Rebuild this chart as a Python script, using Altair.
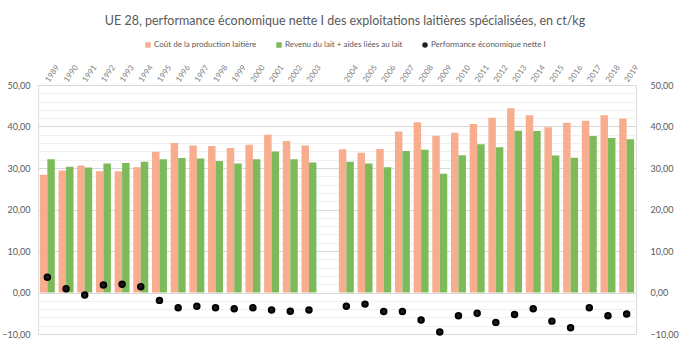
import altair as alt
import pandas as pd

years = ["1989", "1990", "1991", "1992", "1993", "1994", "1995", "1996", "1997", "1998",
         "1999", "2000", "2001", "2002", "2003", " ", "2004", "2005", "2006", "2007",
         "2008", "2009", "2010", "2011", "2012", "2013", "2014", "2015", "2016", "2017",
         "2018", "2019"]
data_years = [y for y in years if y.strip()]

cost = [28.4, 29.4, 30.6, 29.2, 29.2, 30.2, 33.9, 36.0, 35.4, 35.3,
        34.8, 35.6, 38.0, 36.5, 35.4, 34.5, 33.7, 34.6, 38.8, 41.0,
        37.8, 38.5, 40.6, 42.1, 44.4, 42.7, 39.8, 40.9, 41.4, 42.7, 41.9]
revenue = [32.1, 30.3, 30.1, 31.1, 31.2, 31.5, 32.1, 32.4, 32.3, 31.7,
           31.1, 32.1, 34.0, 32.1, 31.3, 31.5, 31.1, 30.2, 34.1, 34.4,
           28.6, 33.1, 35.7, 35.0, 39.0, 38.9, 33.0, 32.5, 37.7, 37.2, 36.9]
perf = [3.7, 0.9, -0.6, 1.8, 2.0, 1.4, -1.9, -3.7, -3.3, -3.7,
        -3.9, -3.7, -4.2, -4.5, -4.2, -3.3, -2.8, -4.6, -4.6, -6.6,
        -9.5, -5.6, -5.0, -7.2, -5.3, -3.9, -6.9, -8.5, -3.7, -5.6, -5.2]

S_COST = "Coût de la production laitière"
S_REV = "Revenu du lait + aides liées au lait"
S_PERF = "Performance économique nette I"
series = [S_COST, S_REV, S_PERF]
colors = ["#F8AE8E", "#7DBB5A", "#1f1f1f"]

bars_df = pd.DataFrame(
    [{"year": y, "serie": S_COST, "value": v} for y, v in zip(data_years, cost)]
    + [{"year": y, "serie": S_REV, "value": v} for y, v in zip(data_years, revenue)]
)
pts_df = pd.DataFrame({"year": data_years, "serie": S_PERF, "value": perf})

FONT = "Lato"
GREY = "#595959"
fmt = "replace(format(datum.value, '.2f'), '.', ',')"

x_enc = alt.X(
    "year:N",
    sort=years,
    scale=alt.Scale(domain=years, paddingInner=0.2, paddingOuter=0.1),
    axis=alt.Axis(orient="top", title=None, labelAngle=-55, labelAlign="left",
                  labelBaseline="middle", labelFontSize=8,
                  labelColor="#7f7f7f", labelFont=FONT, domain=False, ticks=False,
                  labelPadding=4, grid=False, labelOverlap=False),
)

color_enc_scale = alt.Scale(domain=series, range=colors)

left_axis = alt.Axis(
    orient="left", title=None,
    values=list(range(-10, 51, 2)),
    labelExpr="datum.value % 10 === 0 ? " + fmt + " : ''",
    labelFontSize=9, labelColor=GREY, labelFont=FONT, labelPadding=8,
    domain=False, ticks=False, labelOverlap=False,
    grid=True,
    gridColor={"condition": {"test": "datum.value % 10 === 0", "value": "#d9d9d9"},
               "value": "#f0f0f0"},
    gridWidth=1,
)
right_axis = alt.Axis(
    orient="right", title=None, values=list(range(-10, 51, 10)),
    labelExpr=fmt, labelFontSize=9, labelColor=GREY, labelFont=FONT,
    labelPadding=14, domain=False, ticks=False, grid=False, labelOverlap=False,
)

bars = alt.Chart(bars_df).mark_bar().encode(
    x=x_enc,
    xOffset=alt.XOffset("serie:N", scale=alt.Scale(domain=[S_COST, S_REV], paddingInner=0, paddingOuter=0)),
    y=alt.Y("value:Q", scale=alt.Scale(domain=[-10, 50], nice=False, zero=False), axis=left_axis),
    color=alt.Color("serie:N", scale=color_enc_scale, legend=None),
)

legend = alt.Legend(
    title=None, orient="none", legendX=106, legendY=-44, direction="horizontal",
    labelFontSize=8, labelColor=GREY, labelFont=FONT, symbolSize=30,
    symbolStrokeWidth=0, columnPadding=18, labelOffset=2,
)

points = alt.Chart(pts_df).mark_point(filled=True, size=30, stroke="black", strokeWidth=2, opacity=1).encode(
    x=x_enc,
    y=alt.Y("value:Q", scale=alt.Scale(domain=[-10, 50], nice=False, zero=False), axis=right_axis),
    color=alt.Color("serie:N", scale=color_enc_scale, legend=legend),
    shape=alt.Shape("serie:N", scale=alt.Scale(domain=series, range=["square", "square", "circle"]), legend=legend),
)

chart = alt.layer(bars, points).resolve_scale(y="independent").resolve_legend(
    color="independent", shape="independent"
).properties(
    width=598, height=249,
    title=alt.TitleParams(
        "UE 28, performance économique nette I des exploitations laitières spécialisées, en ct/kg",
        fontSize=12.5, font=FONT, color=GREY, fontWeight="normal", anchor="middle", offset=14, dx=8,
    ),
    autosize=alt.AutoSizeParams(type="none"),
    padding={"left": 38, "top": 85, "right": 54, "bottom": 11},
).configure_view(stroke=None).configure(background="white")

chart.save("out.html", embed_options={"renderer": "svg", "actions": False})
